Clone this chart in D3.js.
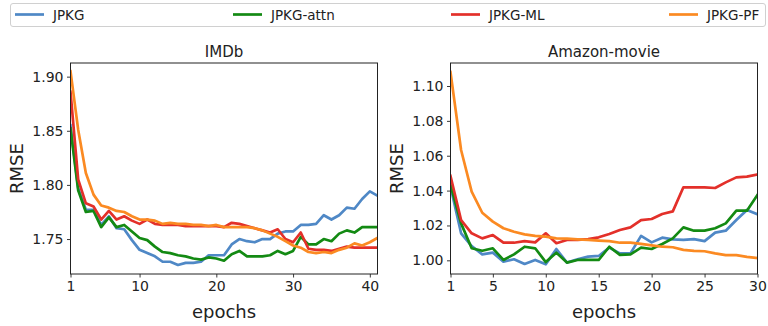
<!DOCTYPE html>
<html>
<head>
<meta charset="utf-8">
<script src="https://cdn.jsdelivr.net/npm/d3@7"></script>
<style>
  body { margin: 0; background: #fff; }
  svg { display: block; font-family: "DejaVu Sans", sans-serif; }
</style>
</head>
<body>
<svg id="chart" width="768" height="326"></svg>
<script>
const seriesNames = ["JPKG", "JPKG-attn", "JPKG-ML", "JPKG-PF"];
const seriesColors = ["#4f88c6", "#138a13", "#e3302a", "#fb8a22"];

// IMDb, epochs 1..41
const imdbEpochs = d3.range(1, 42);
const imdbJPKG = [1.855, 1.797, 1.777, 1.777, 1.763, 1.771, 1.760, 1.759, 1.749, 1.740,
  1.737, 1.734, 1.729, 1.729, 1.726, 1.728, 1.728, 1.729, 1.735, 1.735,
  1.735, 1.745, 1.750, 1.748, 1.747, 1.750, 1.750, 1.755, 1.757, 1.757,
  1.763, 1.763, 1.764, 1.772, 1.768, 1.772, 1.779, 1.778, 1.787, 1.794, 1.790];
const imdbAttn = [1.852, 1.795, 1.775, 1.776, 1.761, 1.770, 1.761, 1.763, 1.757, 1.751,
  1.749, 1.743, 1.738, 1.737, 1.735, 1.734, 1.732, 1.731, 1.733, 1.732,
  1.730, 1.736, 1.739, 1.734, 1.734, 1.734, 1.735, 1.739, 1.736, 1.739,
  1.752, 1.745, 1.745, 1.750, 1.748, 1.755, 1.758, 1.756, 1.761, 1.761, 1.761];
const imdbML = [1.886, 1.805, 1.783, 1.780, 1.768, 1.776, 1.768, 1.771, 1.767, 1.764,
  1.768, 1.764, 1.763, 1.763, 1.763, 1.762, 1.762, 1.762, 1.762, 1.762,
  1.761, 1.765, 1.764, 1.762, 1.760, 1.758, 1.756, 1.759, 1.750, 1.747,
  1.756, 1.741, 1.740, 1.740, 1.739, 1.741, 1.743, 1.742, 1.742, 1.742, 1.742];
const imdbPF = [1.905, 1.851, 1.811, 1.791, 1.781, 1.779, 1.776, 1.775, 1.771, 1.768,
  1.768, 1.767, 1.764, 1.765, 1.764, 1.764, 1.763, 1.763, 1.762, 1.763,
  1.761, 1.761, 1.761, 1.761, 1.760, 1.758, 1.755, 1.752, 1.748, 1.744,
  1.742, 1.738, 1.737, 1.738, 1.737, 1.740, 1.742, 1.746, 1.744, 1.747, 1.751];

// Amazon-movie, epochs 1..30
const amazonEpochs = d3.range(1, 31);
const amazonJPKG = [1.0423, 1.0155, 1.0082, 1.0034, 1.0044, 0.9992, 1.0006, 0.9979, 1.0002, 0.9977,
  1.0065, 0.9987, 1.0006, 1.0021, 1.0025, 1.0073, 1.0040, 1.0040, 1.0140, 1.0103,
  1.0130, 1.0120, 1.0117, 1.0122, 1.0110, 1.0159, 1.0170, 1.0231, 1.0289, 1.0264];
const amazonAttn = [1.0432, 1.0212, 1.0069, 1.0055, 1.0069, 1.0002, 1.0034, 1.0078, 1.0069, 0.9990,
  1.0044, 0.9987, 1.0002, 1.0002, 1.0002, 1.0078, 1.0031, 1.0034, 1.0073, 1.0065,
  1.0094, 1.0126, 1.0189, 1.0170, 1.0170, 1.0184, 1.0212, 1.0285, 1.0285, 1.0375];
const amazonML = [1.0484, 1.0231, 1.0155, 1.0126, 1.0145, 1.0101, 1.0101, 1.0110, 1.0103, 1.0155,
  1.0098, 1.0117, 1.0117, 1.0122, 1.0132, 1.0151, 1.0174, 1.0189, 1.0231, 1.0237,
  1.0266, 1.0281, 1.0419, 1.0419, 1.0419, 1.0415, 1.0447, 1.0476, 1.0480, 1.0493];
const amazonPF = [1.1080, 1.0633, 1.0394, 1.0273, 1.0222, 1.0184, 1.0164, 1.0149, 1.0140, 1.0136,
  1.0126, 1.0124, 1.0120, 1.0117, 1.0113, 1.0110, 1.0101, 1.0101, 1.0094, 1.0086,
  1.0078, 1.0075, 1.0060, 1.0054, 1.0052, 1.0040, 1.0030, 1.0030, 1.0020, 1.0013];

const imdbXTicks = [1, 10, 20, 30, 40];
const imdbYTicks = [1.75, 1.80, 1.85, 1.90];
const amazonXTicks = [1, 5, 10, 15, 20, 25, 30];
const amazonYTicks = [1.00, 1.02, 1.04, 1.06, 1.08, 1.10];

const svg = d3.select("#chart");
const plotTop = 63, plotBottom = 274;

function drawPanel(opts) {
  const { left, right, title, epochs, series, xDomain, yDomain, xTicks, yTicks, yFmt } = opts;
  const x = d3.scaleLinear().domain(xDomain).range([left, right]);
  const y = d3.scaleLinear().domain(yDomain).range([plotBottom, plotTop]);
  const g = svg.append("g");
  const clipId = "clip-" + title.replace(/\W/g, "");

  g.append("defs").append("clipPath").attr("id", clipId)
    .append("rect").attr("x", left).attr("y", plotTop)
    .attr("width", right - left).attr("height", plotBottom - plotTop);

  const line = d3.line().x((d, i) => x(epochs[i])).y((d) => y(d));
  const lines = g.append("g").attr("clip-path", `url(#${clipId})`);
  series.forEach((s, i) => {
    lines.append("path")
      .attr("d", line(s))
      .attr("fill", "none")
      .attr("stroke", seriesColors[i])
      .attr("stroke-width", 2.7)
      .attr("stroke-linejoin", "round")
      .attr("stroke-linecap", "square");
  });

  const xAxis = g.append("g").attr("transform", `translate(0,${plotBottom})`)
    .call(d3.axisBottom(x).tickValues(xTicks).tickSize(3.5).tickPadding(3.5).tickFormat(d3.format("d")));
  const yAxis = g.append("g").attr("transform", `translate(${left},0)`)
    .call(d3.axisLeft(y).tickValues(yTicks).tickSize(3.5).tickPadding(3.5).tickFormat(d3.format(yFmt)));
  [xAxis, yAxis].forEach((a) => {
    a.select(".domain").remove();
    a.selectAll("line").attr("stroke", "#222").attr("stroke-width", 0.9);
    a.selectAll("text").attr("fill", "#222").style("font-size", "14px").style("font-family", "DejaVu Sans");
  });

  g.append("rect")
    .attr("x", left).attr("y", plotTop)
    .attr("width", right - left).attr("height", plotBottom - plotTop)
    .attr("fill", "none").attr("stroke", "#222").attr("stroke-width", 1);

  g.append("text")
    .attr("x", (left + right) / 2).attr("y", plotTop - 6.5)
    .attr("text-anchor", "middle")
    .style("font-size", "15px").attr("fill", "#222")
    .text(title);

  g.append("text")
    .attr("x", (left + right) / 2).attr("y", 318)
    .attr("text-anchor", "middle")
    .style("font-size", "18px").attr("fill", "#222")
    .text("epochs");

  g.append("text")
    .attr("transform", `translate(${left - 48},${(plotTop + plotBottom) / 2}) rotate(-90)`)
    .attr("text-anchor", "middle")
    .style("font-size", "18px").attr("fill", "#222")
    .text("RMSE");
}

drawPanel({
  left: 70.5, right: 377.5, title: "IMDb", epochs: imdbEpochs,
  series: [imdbJPKG, imdbAttn, imdbML, imdbPF],
  xDomain: [1, 41], yDomain: [1.7177, 1.9126],
  xTicks: imdbXTicks, yTicks: imdbYTicks, yFmt: ".2f"
});

drawPanel({
  left: 450.5, right: 757.5, title: "Amazon-movie", epochs: amazonEpochs,
  series: [amazonJPKG, amazonAttn, amazonML, amazonPF],
  xDomain: [1, 30], yDomain: [0.99215, 1.1132],
  xTicks: amazonXTicks, yTicks: amazonYTicks, yFmt: ".2f"
});

// legend
const legend = svg.append("g");
legend.append("rect")
  .attr("x", 10.5).attr("y", 3.5).attr("width", 755).attr("height", 23)
  .attr("rx", 2.5)
  .attr("fill", "#fff").attr("stroke", "#d0d0d0").attr("stroke-width", 1);

const legendX = d3.scalePoint().domain(seriesNames).range([15, 669]);
seriesNames.forEach((name, i) => {
  const lx = legendX(name);
  legend.append("line")
    .attr("x1", lx).attr("x2", lx + 29).attr("y1", 14.5).attr("y2", 14.5)
    .attr("stroke", seriesColors[i]).attr("stroke-width", 2.7);
  legend.append("text")
    .attr("x", lx + 38).attr("y", 19.5)
    .style("font-size", "13.5px").attr("fill", "#222")
    .text(name);
});
</script>
</body>
</html>
